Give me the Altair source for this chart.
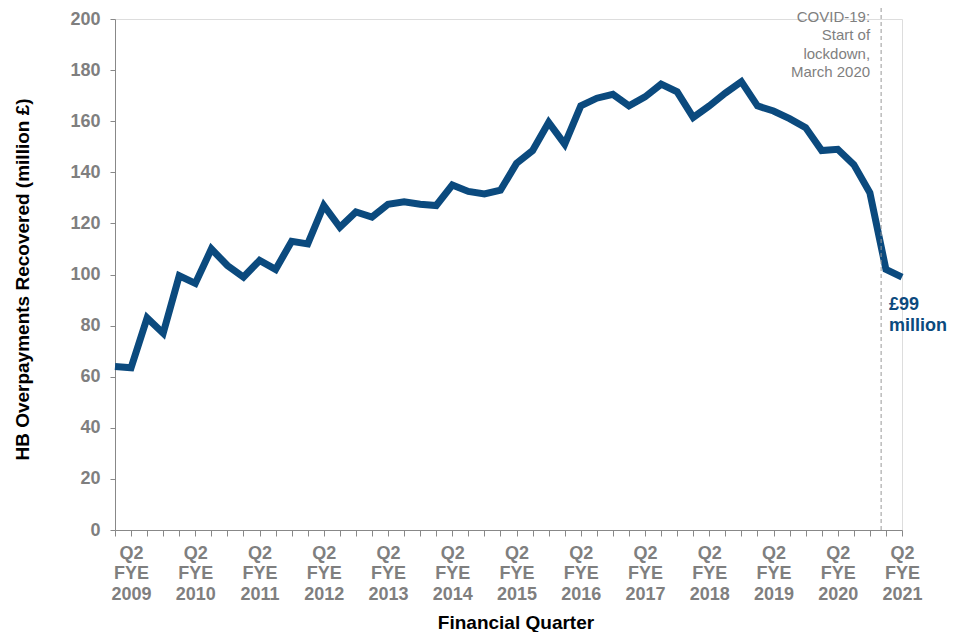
import json
import altair as alt
import pandas as pd

years = list(range(2009, 2022))
quarters = []
for y in years:
    for q in ["Q1", "Q2", "Q3", "Q4"]:
        quarters.append(f"{q} FYE {y}")
quarters = quarters[: quarters.index("Q2 FYE 2021") + 1]

recovered = [64, 63.5, 83, 77, 99.5, 96.5, 110, 103.5, 99, 105.5,
             102, 113, 112, 127, 118.5, 124.5, 122.5, 127.5, 128.5, 127.5,
             127, 135, 132.5, 131.5, 133, 143.5, 148.5, 159.5, 151, 166,
             169, 170.5, 166, 169.5, 174.5, 171.5, 161.5, 166, 171, 175.5,
             166, 164, 161, 157.5, 148.5, 149, 143, 132, 102, 99]

lockdown_pos = [47.7]
lockdown_text = ["COVID-19:", "Start of", "lockdown,", "March 2020"]
end_text = ["£99", "million"]

df = pd.DataFrame({"idx": list(range(len(quarters))), "quarter": quarters, "value": recovered})
FONT = "Liberation Sans"
BLUE = "#0b4a7e"
GREY = "#7f7f7f"
AXIS_GREY = "#888888"

labels_js = json.dumps(quarters)
label_expr = f"datum.value % 4 == 1 ? split({labels_js}[datum.value], ' ') : ''"

x_enc = alt.X(
    "idx:Q",
    scale=alt.Scale(domain=[0, len(quarters) - 1], nice=False, zero=False),
    axis=alt.Axis(
        values=list(range(len(quarters))),
        tickCount=len(quarters),
        labelExpr=label_expr,
        labelOverlap=False,
        labelFlush=False,
        labelBound=False,
        labelFont=FONT, labelFontSize=18, labelFontWeight="bold", labelColor=GREY,
        labelLineHeight=20.5, labelPadding=8, labelBaseline="top",
        tickSize=6, tickColor=AXIS_GREY, domainColor=AXIS_GREY,
        grid=False,
        title="Financial Quarter",
        titleFont=FONT, titleFontSize=19, titleFontWeight="bold", titleColor="#000000",
        titleX=400.5, titleY=92, titleBaseline="middle", titleAnchor="middle",
    ),
)
y_enc = alt.Y(
    "value:Q",
    scale=alt.Scale(domain=[0, 200], nice=False),
    axis=alt.Axis(
        values=list(range(0, 201, 20)),
        tickCount=11,
        labelFont=FONT, labelFontSize=18, labelFontWeight="bold", labelColor=GREY,
        labelPadding=10, tickSize=5, tickColor=AXIS_GREY, domainColor=AXIS_GREY,
        grid=False,
        title="HB Overpayments Recovered (million £)",
        titleFont=FONT, titleFontSize=19, titleFontWeight="bold", titleColor="#000000",
        titleX=-93, titleY=260, titleBaseline="middle", titleAngle=-90, titleAnchor="middle",
    ),
)

line = alt.Chart(df).mark_line(color=BLUE, strokeWidth=7, strokeJoin="miter").encode(x=x_enc, y=y_enc)

ldf = pd.DataFrame({"pos": lockdown_pos})
rule = alt.Chart(ldf).mark_rule(color="#999999", strokeDash=[4, 3], strokeWidth=1).encode(
    x="pos:Q", y=alt.value(-11), y2=alt.value(511)
)
covid = alt.Chart(ldf).mark_text(
    align="right", baseline="middle", font=FONT, fontSize=15, color=GREY,
    lineHeight=18.5, dx=-11, dy=-2.5,
).encode(x="pos:Q", y=alt.datum(200), text=alt.value(lockdown_text))

edf = df.tail(1)
endlab = alt.Chart(edf).mark_text(
    align="left", baseline="middle", font=FONT, fontSize=18, fontWeight="bold", color=BLUE,
    lineHeight=21, dx=-13, dy=28,
).encode(x="idx:Q", y="value:Q", text=alt.value(end_text))

chart = alt.layer(line, rule, covid, endlab).properties(
    width=787, height=511,
    autosize=alt.AutoSizeParams(type="none"),
    padding={"left": 107, "top": 11, "right": 50, "bottom": 102},
).configure_view(stroke=None).configure(background="white")

chart.save("out.html", embed_options={"renderer": "svg", "actions": False})
